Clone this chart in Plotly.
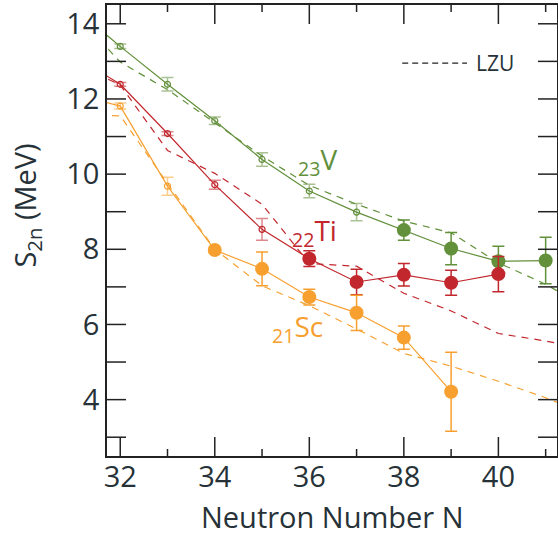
import plotly.graph_objects as go

# ---------------- data ----------------
N_lzu = [31, 32, 33, 34, 35, 36, 37, 38, 39, 40, 41, 42]

# experimental S2n (MeV)
V_N = [31, 32, 33, 34, 35, 36, 37, 38, 39, 40, 41]
V_s2n = [14.44, 13.40, 12.39, 11.42, 10.39, 9.55, 8.99, 8.51, 8.02, 7.68, 7.70]
V_err = [0.0, 0.06, 0.18, 0.10, 0.18, 0.18, 0.23, 0.27, 0.43, 0.40, 0.62]
V_first_new = 38

Ti_N = [31, 32, 33, 34, 35, 36, 37, 38, 39, 40]
Ti_s2n = [13.17, 12.39, 11.08, 9.72, 8.53, 7.75, 7.13, 7.32, 7.11, 7.34]
Ti_err = [0.0, 0.05, 0.05, 0.12, 0.29, 0.21, 0.34, 0.30, 0.33, 0.47]
Ti_first_new = 36

Sc_N = [31, 32, 33, 34, 35, 36, 37, 38, 39]
Sc_s2n = [12.14, 11.81, 9.68, 7.98, 7.48, 6.73, 6.31, 5.65, 4.21]
Sc_err = [0.0, 0.08, 0.24, 0.07, 0.45, 0.21, 0.47, 0.31, 1.05]
Sc_first_new = 34

# LZU predictions
V_lzu = [14.34, 12.98, 12.25, 11.37, 10.48, 9.70, 9.20, 8.75, 8.44, 7.64, 7.07, 6.35]
Ti_lzu = [12.97, 12.37, 10.63, 10.02, 9.20, 7.62, 7.55, 6.83, 6.36, 5.76, 5.56, 5.31]
Sc_lzu = [11.60, 11.55, 9.75, 8.00, 7.03, 6.50, 5.88, 5.23, 4.89, 4.49, 4.05, 3.55]

x_major = [32, 34, 36, 38, 40]
x_minor = [33, 35, 37, 39, 41]
y_ticks = [3, 4, 5, 6, 7, 8, 9, 10, 11, 12, 13, 14]
y_labels = ["", "4", "", "6", "", "8", "", "10", "", "12", "", "14"]

GREEN = "#62903b"
RED = "#c1272d"
ORANGE = "#f7a030"
GREEN_L = "rgba(98,144,59,0.55)"
RED_L = "rgba(193,39,45,0.55)"
ORANGE_L = "rgba(247,160,48,0.55)"
TXT = "#263238"
AX = "#222222"

fig = go.Figure()

def add_series(Ns, vals, errs, lzu, first_new, col, col_l):
    fig.add_trace(go.Scatter(x=N_lzu, y=lzu, mode="lines",
                             line=dict(color=col, width=1.2, dash="7px,6px"),
                             showlegend=False, hoverinfo="skip"))
    fig.add_trace(go.Scatter(x=Ns, y=vals, mode="lines",
                             line=dict(color=col, width=1.2),
                             showlegend=False, hoverinfo="skip"))
    old = [i for i, n in enumerate(Ns) if 32 <= n < first_new]
    new = [i for i, n in enumerate(Ns) if n >= first_new]
    fig.add_trace(go.Scatter(
        x=[Ns[i] for i in old], y=[vals[i] for i in old], mode="markers",
        marker=dict(symbol="circle-open", size=6, color=col, line=dict(width=1.2, color=col)),
        error_y=dict(type="data", array=[errs[i] for i in old], color=col_l, thickness=1.5, width=6),
        showlegend=False))
    fig.add_trace(go.Scatter(
        x=[Ns[i] for i in new], y=[vals[i] for i in new], mode="markers",
        marker=dict(symbol="circle", size=14, color=col),
        error_y=dict(type="data", array=[errs[i] for i in new], color=col, thickness=1.5, width=6),
        showlegend=False))

add_series(V_N, V_s2n, V_err, V_lzu, V_first_new, GREEN, GREEN_L)
add_series(Ti_N, Ti_s2n, Ti_err, Ti_lzu, Ti_first_new, RED, RED_L)
add_series(Sc_N, Sc_s2n, Sc_err, Sc_lzu, Sc_first_new, ORANGE, ORANGE_L)

FONT = "Open Sans"

fig.add_annotation(x=36.18, y=10.34, text="<sub>23</sub>V", showarrow=False,
                   font=dict(family=FONT, size=28, color=GREEN))
fig.add_annotation(x=36.1, y=8.45, text="<sub>22</sub>Ti", showarrow=False,
                   font=dict(family=FONT, size=28, color=RED))
fig.add_annotation(x=35.75, y=5.9, text="<sub>21</sub>Sc", showarrow=False,
                   font=dict(family=FONT, size=28, color=ORANGE))

# LZU legend key
fig.add_shape(type="line", xref="paper", yref="paper", x0=0.656, x1=0.80, y0=0.871, y1=0.871,
              line=dict(color=AX, width=1.2, dash="6px,4px"))
fig.add_annotation(xref="paper", yref="paper", x=0.815, y=0.871, text="LZU", showarrow=False,
                   xanchor="left", yanchor="middle", font=dict(family=FONT, size=21, color=TXT))

# axis titles
fig.add_annotation(xref="paper", yref="paper", x=0.5, y=-0.135, text="Neutron Number N",
                   showarrow=False, xanchor="center", yanchor="middle",
                   font=dict(family=FONT, size=29, color=TXT))
fig.add_annotation(xref="paper", yref="paper", x=-0.178, y=0.555, text="S<sub>2n</sub> (MeV)",
                   showarrow=False, xanchor="center", yanchor="middle", textangle=-90,
                   font=dict(family=FONT, size=29, color=TXT))

# inside tick marks on all four sides, placed at the tick values
def xtick(v, length):
    for anchor, sign in ((0, 1), (1, -1)):
        fig.add_shape(type="line", xref="x", yref="paper", ysizemode="pixel", yanchor=anchor,
                      x0=v, x1=v, y0=0, y1=sign * length,
                      line=dict(color=AX, width=1.5), layer="above")

def ytick(v, length):
    for anchor, sign in ((0, 1), (1, -1)):
        fig.add_shape(type="line", xref="paper", yref="y", xsizemode="pixel", xanchor=anchor,
                      y0=v, y1=v, x0=0, x1=sign * length,
                      line=dict(color=AX, width=1.5), layer="above")

for v in x_major:
    xtick(v, 19)
for v in x_minor:
    xtick(v, 7)
for v in y_ticks:
    ytick(v, 19)

XR = [31.72, 41.24]
fig.update_layout(
    width=558, height=535, margin=dict(l=107, r=1, t=5, b=79),
    plot_bgcolor="white", paper_bgcolor="white", showlegend=False,
    xaxis=dict(range=XR, tickmode="array", tickvals=x_major, ticktext=[str(v) for v in x_major],
               ticks="", showline=True, linecolor=AX, linewidth=1.5, mirror=True,
               showgrid=False, zeroline=False, automargin=False,
               ticklabelstandoff=-6,
               tickfont=dict(family=FONT, size=29, color=TXT)),
    yaxis=dict(range=[2.5, 14.5], tickmode="array", tickvals=y_ticks, ticktext=y_labels,
               ticks="", showline=True, linecolor=AX, linewidth=1.5, mirror=True,
               showgrid=False, zeroline=False, automargin=False,
               tickfont=dict(family=FONT, size=29, color=TXT)),
)

fig.write_html("out.html", config={"displayModeBar": False},
               post_script="document.body.style.margin='0';")
